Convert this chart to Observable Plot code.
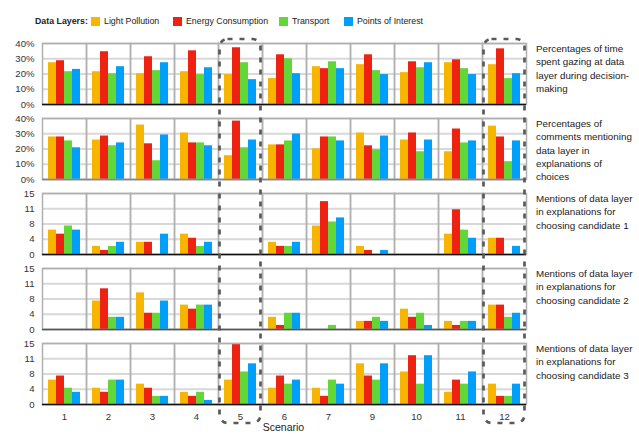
<!DOCTYPE html>
<html>
<head>
<meta charset="utf-8">
<script src="https://cdn.jsdelivr.net/npm/d3@7"></script>
<script src="https://cdn.jsdelivr.net/npm/@observablehq/plot@0.6"></script>
<style>
  body { margin: 0; background: #fff; }
  #chart { position: relative; width: 639px; height: 434px; overflow: hidden;
           font-family: "Liberation Sans", Arial, Helvetica, sans-serif; color: #222; }
  .lg { position: absolute; top: 15px; font-size: 8.8px; line-height: 12px; white-space: nowrap; color: #222; }
  .lg.title { font-weight: bold; }
  .sw { position: absolute; top: 17px; width: 9px; height: 9px; }
  .rowlabel { position: absolute; left: 536px; font-size: 9.8px; line-height: 13.3px; color: #222; white-space: nowrap; }
  #xlabel { position: absolute; top: 421px; left: 0; width: 567px; text-align: center; font-size: 10.5px; }
  svg.overlay { position: absolute; left: 0; top: 0; pointer-events: none; }
  .plotrow { position: absolute; left: 0; }
</style>
</head>
<body>
<div id="chart"></div>
<script>
// ---- data ----
const layers = ["Light Pollution", "Energy Consumption", "Transport", "Points of Interest"];
const colors = ["#f7b500", "#ee2211", "#62d838", "#00a0fa"];
const scenarios = ["1", "2", "3", "4", "5", "6", "7", "9", "10", "11", "12"];
const highlighted = ["5", "12"];

// each inner array: [Light Pollution, Energy Consumption, Transport, Points of Interest] per scenario
const gazePct = [
  [27.4, 28.7, 21.5, 23.0],
  [21.5, 34.6, 20.2, 24.8],
  [20.2, 31.3, 22.2, 27.4],
  [21.5, 35.2, 19.6, 24.1],
  [19.6, 37.2, 27.4, 16.3],
  [17.0, 32.6, 30.0, 20.2],
  [24.8, 23.5, 28.0, 23.5],
  [26.1, 32.6, 22.2, 19.6],
  [20.9, 28.0, 24.1, 27.4],
  [27.4, 29.3, 23.5, 19.6],
  [26.1, 36.5, 17.0, 20.2]
];
const commentPct = [
  [27.9, 27.9, 25.3, 20.8],
  [25.9, 28.5, 22.1, 24.0],
  [35.7, 23.4, 12.3, 29.2],
  [30.5, 24.0, 24.0, 22.1],
  [15.6, 38.3, 20.8, 25.9],
  [22.7, 22.7, 25.3, 29.8],
  [20.1, 27.9, 27.9, 25.3],
  [30.5, 22.1, 19.5, 28.5],
  [25.9, 30.5, 18.2, 25.9],
  [18.2, 33.1, 24.0, 25.3],
  [35.0, 27.9, 11.7, 25.3]
];
const cand1 = [
  [6, 5, 7, 6], [2, 1, 2, 3], [3, 3, 0, 5], [5, 4, 2, 3], [0, 0, 0, 0], [3, 2, 2, 3],
  [7, 13, 8, 9], [2, 1, 0, 1], [0, 0, 0, 0], [5, 11, 6, 4], [4, 4, 0, 2]
];
const cand2 = [
  [0, 0, 0, 0], [7, 10, 3, 3], [9, 4, 4, 7], [6, 5, 6, 6], [0, 0, 0, 0], [3, 1, 4, 4],
  [0, 0, 1, 0], [2, 2, 3, 2], [5, 3, 4, 1], [2, 1, 2, 2], [6, 6, 3, 4]
];
const cand3 = [
  [6, 7, 4, 3], [4, 3, 6, 6], [5, 4, 2, 2], [3, 2, 3, 1], [6, 15, 8, 10], [4, 7, 5, 6],
  [4, 2, 6, 5], [10, 7, 6, 10], [8, 12, 5, 12], [3, 6, 5, 8], [5, 2, 2, 5]
];

const pctTicks = [0, 10, 20, 30, 40];
const pctTickLabels = ["0%", "10%", "20%", "30%", "40%"];
const countTicks = [0, 3.75, 7.5, 11.25, 15];
const countTickLabels = ["0", "4", "8", "11", "15"];

const rowLabels = [
  ["Percentages of time", "spent gazing at data", "layer during decision-", "making"],
  ["Percentages of", "comments mentioning", "data layer in", "explanations of", "choices"],
  ["Mentions of data layer", "in explanations for", "choosing candidate 1"],
  ["Mentions of data layer", "in explanations for", "choosing candidate 2"],
  ["Mentions of data layer", "in explanations for", "choosing candidate 3"]
];
const legendTitle = "Data Layers:";
const xTitle = "Scenario";

// ---- layout ----
const rows = [
  {values: gazePct, ticks: pctTicks, labels: pctTickLabels, base: "#111"},
  {values: commentPct, ticks: pctTicks, labels: pctTickLabels, base: "#888"},
  {values: cand1, ticks: countTicks, labels: countTickLabels, base: "#111"},
  {values: cand2, ticks: countTicks, labels: countTickLabels, base: "#555"},
  {values: cand3, ticks: countTicks, labels: countTickLabels, base: "#111"}
];
const W = 527, ML = 40, MT = 7, FH = 61, STEP = 75, TOP0 = 36;
const chart = document.getElementById("chart");

// legend (swatch x positions follow the reference layout)
const legendX = [91, 173, 279, 344];
const t = document.createElement("div");
t.className = "lg title"; t.style.left = "35px"; t.textContent = legendTitle;
chart.appendChild(t);
layers.forEach((l, i) => {
  const sw = document.createElement("div");
  sw.className = "sw"; sw.style.left = legendX[i] + "px"; sw.style.background = colors[i];
  chart.appendChild(sw);
  const tx = document.createElement("div");
  tx.className = "lg"; tx.style.left = (legendX[i] + 13) + "px"; tx.textContent = l;
  chart.appendChild(tx);
});

const plots = [];
rows.forEach((r, ri) => {
  const last = ri === rows.length - 1;
  const data = [];
  r.values.forEach((vals, si) => vals.forEach((v, li) =>
    data.push({scenario: scenarios[si], layer: layers[li], value: v})));
  const max = r.ticks[r.ticks.length - 1];
  const p = Plot.plot({
    width: W,
    height: MT + FH + (last ? 30 : 7),
    marginLeft: ML, marginRight: 0, marginTop: MT, marginBottom: last ? 30 : 7,
    style: {fontFamily: '"Liberation Sans", Arial, sans-serif', fontSize: "9.6px", color: "#333", background: "transparent", overflow: "visible"},
    facet: {data, x: "scenario"},
    fx: {domain: scenarios, padding: 0, axis: last ? "bottom" : null, label: null, tickSize: 0, tickPadding: 9},
    x: {domain: layers, axis: null, paddingInner: 0, paddingOuter: 0.46},
    y: {domain: [0, max], ticks: r.ticks, tickFormat: d => r.labels[r.ticks.indexOf(d)], tickSize: 0, tickPadding: 8, label: null},
    color: {domain: layers, range: colors},
    marks: [
      Plot.ruleY(r.ticks, {stroke: "#d8d8d8", strokeWidth: 2}),
      Plot.barY(data, {x: "layer", y: "value", fill: "layer"}),
      Plot.frame({stroke: "#b0b0b0", strokeWidth: 1.5}),
      Plot.ruleY([0], {stroke: r.base, strokeWidth: 1.5})
    ]
  });
  const wrap = document.createElement("div");
  wrap.className = "plotrow";
  wrap.style.top = (TOP0 + ri * STEP) + "px";
  wrap.appendChild(p);
  chart.appendChild(wrap);
  plots.push(p);

  const lab = document.createElement("div");
  lab.className = "rowlabel";
  lab.style.top = (TOP0 + ri * STEP + MT - 1) + "px";
  lab.innerHTML = rowLabels[ri].join("<br>");
  chart.appendChild(lab);
});

const xl = document.createElement("div");
xl.id = "xlabel";
xl.textContent = xTitle;
chart.appendChild(xl);

// dashed highlight boxes, positioned from the fx scale
const fx = plots[0].scale("fx");
let fxApply, bw;
if (fx && typeof fx.apply === "function") {
  fxApply = fx.apply; bw = fx.bandwidth;
} else {
  const sc = d3.scaleBand().domain(scenarios).range([ML, W]).padding(0);
  fxApply = d => sc(d); bw = sc.bandwidth();
}
const ns = "http://www.w3.org/2000/svg";
const ov = document.createElementNS(ns, "svg");
ov.setAttribute("class", "overlay");
ov.setAttribute("width", 639); ov.setAttribute("height", 434);
const yTop = TOP0 + MT - 4;
const yBot = TOP0 + (rows.length - 1) * STEP + MT + FH + 19;
highlighted.forEach(s => {
  const x0 = fxApply(s);
  const rect = document.createElementNS(ns, "rect");
  rect.setAttribute("x", x0 + 1.5);
  rect.setAttribute("y", yTop);
  rect.setAttribute("width", bw - 3);
  rect.setAttribute("height", yBot - yTop);
  rect.setAttribute("rx", 8);
  rect.setAttribute("fill", "none");
  rect.setAttribute("stroke", "#5a5a5a");
  rect.setAttribute("stroke-width", 2.7);
  rect.setAttribute("stroke-dasharray", "5 7");
  ov.appendChild(rect);
});
chart.appendChild(ov);
</script>
</body>
</html>
